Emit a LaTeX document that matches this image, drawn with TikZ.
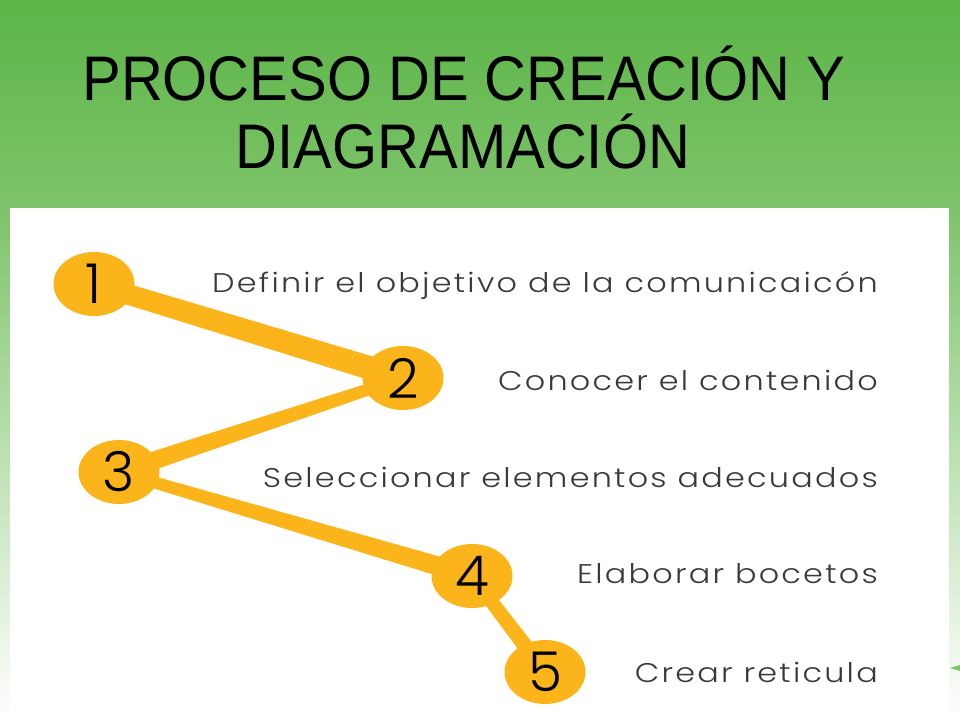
\documentclass[tikz,border=0pt]{standalone}
\usepackage{fontspec}
\setmainfont{Liberation Sans}
\newfontfamily\stepfont{Poppins Light}
\newfontfamily\labelfont{Poppins Light}[LetterSpace=7]
\usetikzlibrary{shapes.geometric,calc}
\definecolor{leafgreen}{HTML}{5CB547}
\definecolor{palegreen}{HTML}{7EC46B}
\definecolor{stepyellow}{HTML}{FBB41A}
\definecolor{labelgray}{HTML}{3A3A3A}
\pgfdeclarelayer{canvas}
\pgfdeclarelayer{links}
\pgfsetlayers{canvas,links,main}
\tikzset{
    stepdot/.style={ellipse, fill=stepyellow, minimum width=81pt,
      minimum height=64pt, inner sep=0pt, font=\stepfont\fontsize{55}{55}\selectfont},
    steplabel/.style={anchor=base east, text=labelgray, inner sep=0pt,
      xscale=1.18, transform shape, font=\labelfont\fontsize{27}{27}\selectfont},
    titleline/.style={anchor=base, inner sep=0pt, xscale=0.92, transform shape,
      font=\fontsize{63}{63}\selectfont},
}
\begin{document}
\begin{tikzpicture}[x=1pt, y=-1pt]
 \begin{pgfonlayer}{canvas}
 \shade[top color=leafgreen, bottom color=palegreen] (0,0) rectangle (960,210);
 \shade[top color=palegreen, bottom color=white] (0,210) rectangle (960,720);
 \fill[white] (10,208) rectangle (949,720);
 \fill[leafgreen!80] (950,668) -- (960,665) -- (960,671) -- cycle;
 \end{pgfonlayer}
 % title
 \node[titleline] (title) at (464,100) {PROCESO DE CREACIÓN Y};
 \node[titleline] (title2) at (463,168) {DIAGRAMACIÓN};
 % steps
 \node[stepdot] (s1) at (94,284) {1};
 \node[stepdot] (s2) at (403,378) {2};
 \node[stepdot] (s3) at (119,472) {3};
 \node[stepdot] (s4) at (472,576) {4};
 \node[stepdot] (s5) at (545,672) {5};
 \node[steplabel] (l1) at (878,292) {Definir el objetivo de la comunicaicón};
 \node[steplabel] (l2) at (878,390) {Conocer el contenido};
 \node[steplabel] (l3) at (878,487) {Seleccionar elementos adecuados};
 \node[steplabel] (l4) at (878,583) {Elaborar bocetos};
 \node[steplabel] (l5) at (878,682) {Crear reticula};
 \begin{pgfonlayer}{links}
 \fill[stepyellow] ($(s1.center)!10pt!90:(s2.center)$) -- ($(s2.center)!12pt!-90:(s1.center)$)
    -- ($(s2.center)!12pt!90:(s1.center)$) -- ($(s1.center)!10pt!-90:(s2.center)$) -- cycle;
 \fill[stepyellow] ($(s2.center)!5.5pt!90:(s3.center)$) -- ($(s3.center)!9.5pt!-90:(s2.center)$)
    -- ($(s3.center)!9.5pt!90:(s2.center)$) -- ($(s2.center)!5.5pt!-90:(s3.center)$) -- cycle;
 \fill[stepyellow] ($(s3.center)!5.5pt!90:(s4.center)$) -- ($(s4.center)!10pt!-90:(s3.center)$)
    -- ($(s4.center)!10pt!90:(s3.center)$) -- ($(s3.center)!5.5pt!-90:(s4.center)$) -- cycle;
 \fill[stepyellow] ($(s4.center)!6.5pt!90:(s5.center)$) -- ($(s5.center)!8pt!-90:(s4.center)$)
    -- ($(s5.center)!8pt!90:(s4.center)$) -- ($(s4.center)!6.5pt!-90:(s5.center)$) -- cycle;
 \end{pgfonlayer}
\end{tikzpicture}
\end{document}
